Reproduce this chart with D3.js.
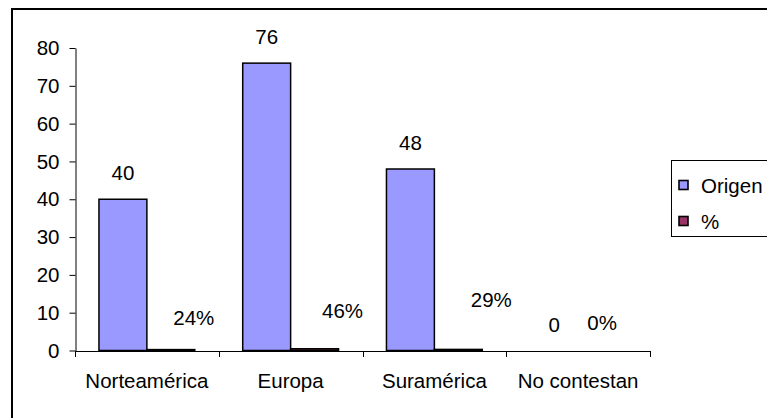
<!DOCTYPE html>
<html>
<head>
<meta charset="utf-8">
<script src="https://cdn.jsdelivr.net/npm/d3@7"></script>
<style>
  body { margin: 0; background: #fff; }
  svg { display: block; font-family: "Liberation Sans", Arial, sans-serif; }
</style>
</head>
<body>
<svg id="chart" width="767" height="418"></svg>
<script>
const categories = ["Norteamérica", "Europa", "Suramérica", "No contestan"];
const seriesNames = ["Origen", "%"];
const origenValues = [40, 76, 48, 0];
const pctValues = [0.24, 0.46, 0.29, 0];
const origenLabels = ["40", "76", "48", "0"];
const pctLabels = ["24%", "46%", "29%", "0%"];
const yTicks = [0, 10, 20, 30, 40, 50, 60, 70, 80];

// the % labels were dragged by hand in the original, so keep their nudges apart
const pctLabelNudge = [[23, -25], [28, -31], [33, -42], [0, -21]];

const colors = { "Origen": "#9999ff", "%": "#993366" };
const margin = { left: 75, right: 117, top: 48, bottom: 67 };
const width = 767, height = 418;
const fontSize = 20.5;

const svg = d3.select("#chart");

// outer chart border (runs off the right and bottom edges like the picture)
svg.append("rect")
  .attr("x", 12).attr("y", 9)
  .attr("width", 900).attr("height", 600)
  .attr("fill", "none").attr("stroke", "#000").attr("stroke-width", 2);

const x = d3.scaleBand()
  .domain(categories)
  .range([margin.left, width - margin.right])
  .padding(0);

const xs = d3.scaleBand()
  .domain(seriesNames)
  .range([0, x.bandwidth()])
  .paddingInner(0)
  .paddingOuter(0.5);

const y = d3.scaleLinear()
  .domain([0, 80])
  .range([height - margin.bottom - 0.5, margin.top]);

const g = svg.append("g");

// y axis
const yAxis = d3.axisLeft(y).tickValues(yTicks).tickSize(6).tickPadding(10).tickSizeOuter(0);
const gy = g.append("g")
  .attr("transform", "translate(" + (margin.left + 0.5) + ",0)")
  .call(yAxis);
gy.selectAll("text").attr("font-size", fontSize).attr("font-family", null).attr("fill", "#000");
gy.selectAll("line, path").attr("stroke", "#000");

// x axis with ticks at category boundaries
const xBounds = categories.map(function(c) { return x(c); }).concat([x.range()[1]]);
const gx = g.append("g").attr("class", "x axis");
gx.append("line")
  .attr("x1", margin.left).attr("x2", x.range()[1])
  .attr("y1", Math.round(y(0)) + 0.5).attr("y2", Math.round(y(0)) + 0.5)
  .attr("stroke", "#000");
gx.selectAll(".tick")
  .data(xBounds)
  .enter().append("line")
  .attr("x1", function(d) { return Math.round(d) + 0.5; })
  .attr("x2", function(d) { return Math.round(d) + 0.5; })
  .attr("y1", Math.round(y(0))).attr("y2", Math.round(y(0)) + 6)
  .attr("stroke", "#000");
gx.selectAll(".cat")
  .data(categories)
  .enter().append("text")
  .attr("x", function(d) { return x(d) + x.bandwidth() / 2; })
  .attr("y", y(0) + 37)
  .attr("text-anchor", "middle")
  .attr("font-size", fontSize)
  .text(function(d) { return d; });

// bars
const rows = categories.map(function(c, i) {
  return { cat: c, values: [
    { key: "Origen", value: origenValues[i], label: origenLabels[i], nudge: [0, -19] },
    { key: "%", value: pctValues[i], label: pctLabels[i], nudge: pctLabelNudge[i] }
  ] };
});

const groups = g.selectAll(".cat-group")
  .data(rows)
  .enter().append("g")
  .attr("transform", function(d) { return "translate(" + x(d.cat) + ",0)"; });

groups.selectAll("rect")
  .data(function(d) { return d.values.filter(function(v) { return v.value > 0; }); })
  .enter().append("rect")
  .attr("x", function(d) { return xs(d.key); })
  .attr("width", xs.bandwidth())
  .attr("y", function(d) { return y(d.value); })
  .attr("height", function(d) { return y(0) - y(d.value); })
  .attr("fill", function(d) { return colors[d.key]; })
  .attr("stroke", "#000")
  .attr("stroke-width", 1.5);

groups.selectAll(".label")
  .data(function(d) { return d.values; })
  .enter().append("text")
  .attr("class", "label")
  .attr("x", function(d) { return xs(d.key) + xs.bandwidth() / 2 + d.nudge[0]; })
  .attr("y", function(d) { return y(d.value) + d.nudge[1]; })
  .attr("text-anchor", "middle")
  .attr("font-size", fontSize)
  .text(function(d) { return d.label; });

// legend
const legend = svg.append("g").attr("transform", "translate(671,160)");
legend.append("rect")
  .attr("x", 0.5).attr("y", 0.5)
  .attr("width", 200).attr("height", 76)
  .attr("fill", "#fff").attr("stroke", "#000");
const items = legend.selectAll(".item")
  .data(seriesNames)
  .enter().append("g")
  .attr("transform", function(d, i) { return "translate(0," + (i * 36) + ")"; });
items.append("rect")
  .attr("x", 8).attr("y", 20.5)
  .attr("width", 9).attr("height", 9)
  .attr("fill", function(d) { return colors[d]; })
  .attr("stroke", "#000").attr("stroke-width", 1.6);
items.append("text")
  .attr("x", 30).attr("y", 33)
  .attr("font-size", fontSize)
  .text(function(d) { return d; });
</script>
</body>
</html>
